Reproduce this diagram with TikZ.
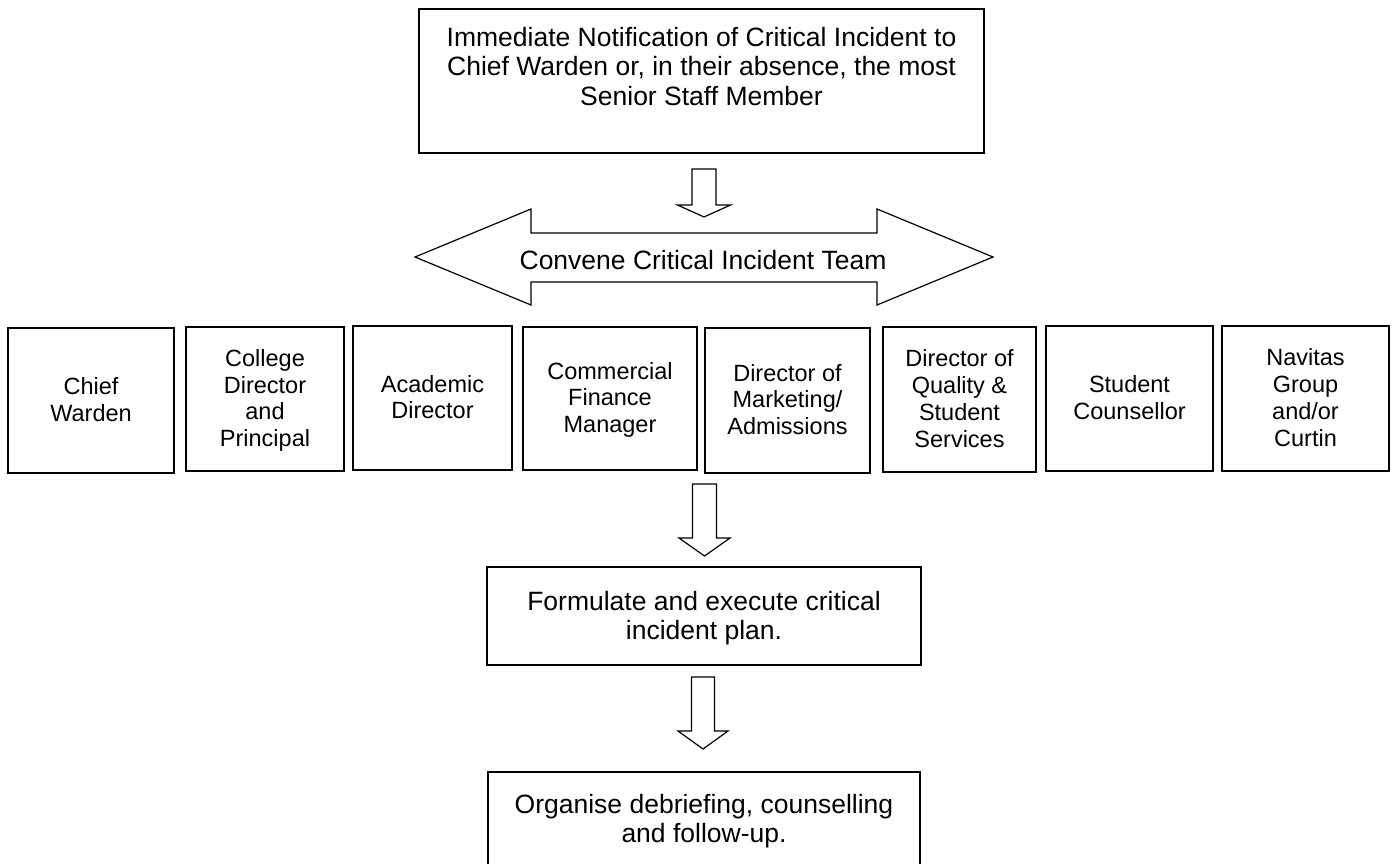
\documentclass[tikz,border=0pt]{standalone}
\usepackage{fontspec}
\setmainfont{Liberation Sans}
\newcommand\lines[1]{\begin{tabular}[t]{@{}c@{}}#1\end{tabular}}
\newcommand\bigfont{\fontsize{26.5}{29.5}\selectfont}
\newcommand\smallfont{\fontsize{23.5}{26.8}\selectfont}
% block arrow pointing down: x, top, head y, tip y, shaft half width, head half width
\newcommand\blockdown[6]{%
  \draw[blockarrow] ({#1-#5},{#2}) -- ({#1+#5},{#2}) -- ({#1+#5},{#3}) -- ({#1+#6},{#3})
    -- ({#1},{#4}) -- ({#1-#6},{#3}) -- ({#1-#5},{#3}) -- cycle;}
\tikzset{
  boxbase/.style={draw, line width=1.3pt, rectangle, inner xsep=0pt, inner ysep=0pt, anchor=base, align=center},
  bigbox/.style={boxbase, font=\bigfont},
  rowbox/.style={boxbase, font=\smallfont},
  blockarrow/.style={draw, line width=1.2pt, line join=miter, fill=white},
}
\begin{document}
\begin{tikzpicture}[x=1pt, y=-1pt]
\path[use as bounding box] (0,0) rectangle (1394,863);
\clip (0,0) rectangle (1394,863);
\fill[white] (0,0) rectangle (1394,863);

% top box
\node[bigbox, minimum width=565pt, text height=37pt, text depth=107pt] (notify) at (701.5,46)
  {\lines{Immediate Notification of Critical Incident to\\Chief Warden or, in their absence, the most\\Senior Staff Member}};

% arrow 1
\blockdown{704}{169}{205}{217}{12}{26.5}

% double arrow
\draw[blockarrow] (415,257) -- (531,209) -- (531,233) -- (877,233) -- (877,209) -- (993,257)
  -- (877,305) -- (877,282) -- (531,282) -- (531,305) -- cycle;
\node[font=\bigfont, inner sep=0pt, anchor=base] (convene) at (703,269) {Convene Critical Incident Team};

% row of team boxes
\node[rowbox, minimum width=166pt, text height=66.5pt, text depth=78.5pt] (cw) at (91,394.5)
  {\lines{Chief\\Warden}};
\node[rowbox, minimum width=158pt, text height=39.2pt, text depth=104.8pt] (cdp) at (265,366.2)
  {\lines{College\\Director\\and\\Principal}};
\node[rowbox, minimum width=159pt, text height=66pt, text depth=78pt] (ad) at (432.5,392)
  {\lines{Academic\\Director}};
\node[rowbox, minimum width=174pt, text height=52.1pt, text depth=90.9pt] (cfm) at (610,379.1)
  {\lines{Commercial\\Finance\\Manager}};
\node[rowbox, minimum width=165pt, text height=53.1pt, text depth=91.9pt] (dma) at (787.5,381.1)
  {\lines{Director of\\Marketing/\\Admissions}};
\node[rowbox, minimum width=153pt, text height=39.7pt, text depth=105.3pt] (dqs) at (959.5,366.7)
  {\lines{Director of\\Quality \&\\Student\\Services}};
\node[rowbox, minimum width=167pt, text height=66.5pt, text depth=78.5pt] (sc) at (1129.5,392.5)
  {\lines{Student\\Counsellor}};
\node[rowbox, minimum width=167pt, text height=39.7pt, text depth=105.3pt] (ng) at (1305.5,365.7)
  {\lines{Navitas\\Group\\and/or\\Curtin}};

% arrow 2
\blockdown{704.5}{484}{538}{556}{12}{25.5}

% plan box
\node[bigbox, minimum width=434pt, text height=43pt, text depth=55pt] (plan) at (704,610)
  {\lines{Formulate and execute critical\\incident plan.}};

% arrow 3
\blockdown{703}{677}{731}{749}{11.5}{25}

% debrief box (runs off the bottom edge)
\node[bigbox, minimum width=432pt, text height=41pt, text depth=57pt] (debrief) at (704,813)
  {\lines{Organise debriefing, counselling\\and follow-up.}};
\end{tikzpicture}
\end{document}
